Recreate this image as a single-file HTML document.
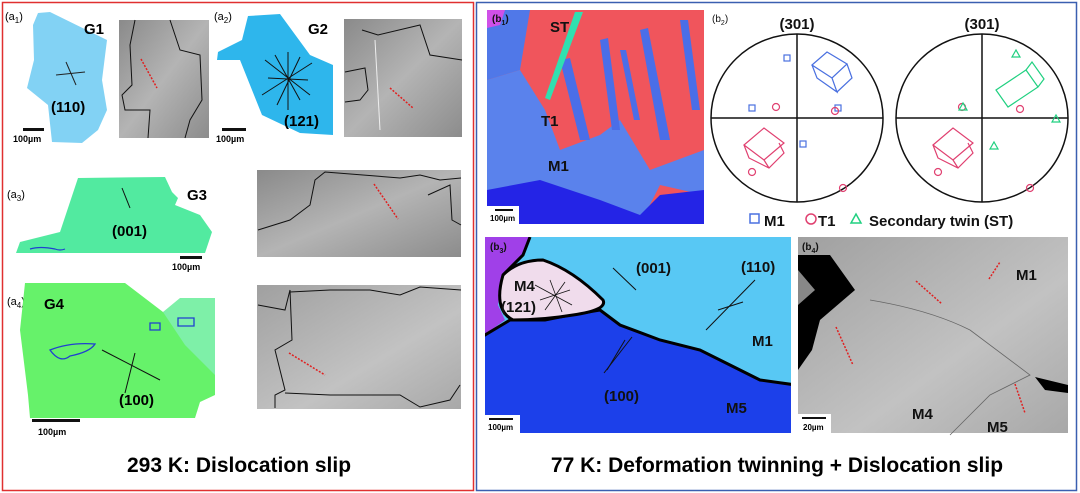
<!DOCTYPE html>
<html><head><meta charset="utf-8"><style>
html,body{margin:0;padding:0;background:#fff}
svg{display:block;font-family:"Liberation Sans",Arial,sans-serif}
.b{font-weight:bold}
</style></head><body>
<svg width="1080" height="493" viewBox="0 0 1080 493">
<defs>
<linearGradient id="sem" x1="0" y1="0" x2="1" y2="1"><stop offset="0" stop-color="#8a8a8a"/><stop offset="0.5" stop-color="#b4b4b4"/><stop offset="1" stop-color="#8c8c8c"/></linearGradient>
<linearGradient id="sem2" x1="0" y1="0" x2="1" y2="1"><stop offset="0" stop-color="#a0a0a0"/><stop offset="0.6" stop-color="#c2c2c2"/><stop offset="1" stop-color="#a8a8a8"/></linearGradient>
<clipPath id="b3clip"><rect x="485" y="237" width="306" height="196"/></clipPath>
</defs>
<!-- Left panel -->
<rect x="2.5" y="2.5" width="471" height="488" fill="none" stroke="#e03030" stroke-width="1.5"/>
<g>
<text x="5" y="20" font-size="11">(a<tspan font-size="8" dy="3">1</tspan><tspan dy="-3">)</tspan></text>
<polygon points="38,13 50,12 107,40 102,80 107,110 98,130 82,143 52,142 48,105 27,88 34,60 33,25" fill="#82d2f4"/>
<line x1="56" y1="75" x2="85" y2="72" stroke="#222" stroke-width="1"/><line x1="66" y1="62" x2="76" y2="85" stroke="#222" stroke-width="1"/>
<text x="84" y="34" font-size="15" class="b">G1</text>
<text x="51" y="112" font-size="15" class="b">(110)</text>
<rect x="23" y="128" width="21" height="3" fill="#111"/><text x="13" y="142" font-size="9" class="b">100µm</text>
<rect x="119" y="20" width="90" height="118" fill="url(#sem)"/>
<polyline points="135,20 130,45 132,85 122,95 125,110 150,110 148,138" fill="none" stroke="#111" stroke-width="1"/>
<polyline points="170,20 180,50 200,55 202,100 190,120 185,138" fill="none" stroke="#111" stroke-width="1"/>
<line x1="141" y1="59" x2="157" y2="88" stroke="#e02020" stroke-width="1.5" stroke-dasharray="2,1.5"/>
</g>
<g>
<text x="214" y="20" font-size="11">(a<tspan font-size="8" dy="3">2</tspan><tspan dy="-3">)</tspan></text>
<polygon points="248,16 280,14 310,55 333,65 333,135 300,133 262,115 240,60 217,60 218,52 242,40" fill="#2eb6ec"/>
<g stroke="#111" stroke-width="1"><line x1="265" y1="60" x2="310" y2="95"/><line x1="262" y1="95" x2="312" y2="63"/><line x1="288" y1="52" x2="288" y2="110"/><line x1="275" y1="55" x2="300" y2="100"/><line x1="300" y1="57" x2="277" y2="105"/><line x1="268" y1="78" x2="308" y2="80"/></g>
<text x="308" y="34" font-size="15" class="b">G2</text>
<text x="284" y="126" font-size="15" class="b">(121)</text>
<rect x="222" y="128" width="24" height="3" fill="#111"/><text x="216" y="142" font-size="9" class="b">100µm</text>
<rect x="344" y="19" width="118" height="118" fill="url(#sem)"/>
<polyline points="345,72 365,68 368,90 360,100 345,102" fill="none" stroke="#111" stroke-width="1"/>
<polyline points="362,30 378,35 420,25 430,55 462,60" fill="none" stroke="#111" stroke-width="1"/>
<polyline points="375,40 380,130" fill="none" stroke="#eee" stroke-width="1"/>
<line x1="390" y1="88" x2="413" y2="108" stroke="#e02020" stroke-width="1.5" stroke-dasharray="2,1.5"/>
</g>
<g>
<text x="7" y="198" font-size="11">(a<tspan font-size="8" dy="3">3</tspan><tspan dy="-3">)</tspan></text>
<polygon points="78,178 165,177 172,192 178,198 175,205 200,215 212,232 205,253 16,253 20,242 60,232" fill="#52eaa0"/>
<path d="M30,249 q10,-3 25,0 q5,2 10,0" fill="none" stroke="#2040d0" stroke-width="1.2"/>
<line x1="122" y1="188" x2="130" y2="208" stroke="#111"/>
<text x="187" y="200" font-size="15" class="b">G3</text>
<text x="112" y="236" font-size="15" class="b">(001)</text>
<rect x="180" y="256" width="22" height="3" fill="#111"/><text x="172" y="270" font-size="9" class="b">100µm</text>
<rect x="257" y="170" width="204" height="87" fill="url(#sem)"/>
<polyline points="258,230 290,220 310,205 315,180 325,172 400,178 420,175 440,180 461,178" fill="none" stroke="#111" stroke-width="1"/>
<polyline points="428,195 450,185 452,220 461,225" fill="none" stroke="#111" stroke-width="1"/>
<line x1="374" y1="184" x2="398" y2="219" stroke="#e02020" stroke-width="1.5" stroke-dasharray="2,1.5"/>
</g>
<g>
<text x="7" y="305" font-size="11">(a<tspan font-size="8" dy="3">4</tspan><tspan dy="-3">)</tspan></text>
<polygon points="25,283 125,283 163,312 215,300 215,395 200,402 195,418 30,418 28,395 20,330" fill="#66f26a"/>
<polygon points="163,312 180,298 215,298 215,375 185,345" fill="#7ef0a8"/>
<path d="M50,350 q20,-8 45,-6 q-5,8 -25,12 q-10,8 -20,-6z" fill="none" stroke="#2040d0" stroke-width="1.3"/>
<path d="M150,323 h10 v7 h-10z M178,318 h16 v8 h-16z" fill="none" stroke="#2040d0" stroke-width="1.3"/>
<line x1="102" y1="350" x2="160" y2="380" stroke="#111"/><line x1="135" y1="353" x2="125" y2="393" stroke="#111"/>
<text x="44" y="309" font-size="15" class="b">G4</text>
<text x="119" y="405" font-size="15" class="b">(100)</text>
<rect x="32" y="419" width="48" height="3" fill="#111"/><text x="38" y="435" font-size="9" class="b">100µm</text>
<rect x="257" y="285" width="204" height="124" fill="url(#sem2)"/>
<polyline points="258,305 285,310 290,290 292,340 275,350 285,390 275,395 275,408" fill="none" stroke="#111" stroke-width="1"/>
<polyline points="290,292 330,290 370,290 400,295 420,287 461,290" fill="none" stroke="#111" stroke-width="1"/>
<polyline points="285,393 330,395 400,395 420,407 450,400 460,385" fill="none" stroke="#111" stroke-width="1"/>
<line x1="289" y1="353" x2="325" y2="375" stroke="#e02020" stroke-width="1.5" stroke-dasharray="2,1.5"/>
</g>
<text x="239" y="472" font-size="21" class="b" text-anchor="middle">293 K: Dislocation slip</text>

<!-- Right panel -->
<rect x="476.5" y="2.5" width="600" height="488" fill="none" stroke="#3a5fb0" stroke-width="1.5"/>
<g>
<rect x="487" y="10" width="217" height="214" fill="#f0555c"/>
<polygon points="487,10 530,10 520,70 487,80" fill="#5078e8"/>
<polygon points="487,80 520,70 545,110 560,150 600,135 620,120 650,170 704,150 704,195 660,185 640,224 487,224" fill="#5a82ec"/>
<g fill="#4a6ee8"><polygon points="560,60 570,58 590,140 580,140"/><polygon points="600,40 608,38 620,130 612,130"/><polygon points="640,30 648,28 670,140 660,140"/><polygon points="680,20 688,20 700,110 692,110"/><polygon points="620,50 626,50 640,120 634,120"/></g>
<polygon points="575,12 583,12 550,100 545,98" fill="#30e0b0"/>
<polygon points="487,190 540,180 600,200 640,215 660,195 704,190 704,224 487,224" fill="#2424e6"/>
<polygon points="487,10 505,10 500,25 487,28" fill="#d050e8"/>
<text x="492" y="22" font-size="10" class="b" fill="#111">(b<tspan font-size="7" dy="3">1</tspan><tspan dy="-3">)</tspan></text>
<text x="550" y="32" font-size="15" class="b" fill="#111">ST</text>
<text x="541" y="126" font-size="15" class="b" fill="#111">T1</text>
<text x="548" y="171" font-size="15" class="b" fill="#111">M1</text>
<rect x="487" y="206" width="32" height="18" fill="#fff"/><rect x="495" y="209" width="18" height="2" fill="#111"/><text x="490" y="221" font-size="8" class="b">100µm</text>
</g>
<g fill="none" stroke-width="1.2">
<text x="712" y="22" font-size="10" stroke="none" fill="#111">(b<tspan font-size="7" dy="3">2</tspan><tspan dy="-3">)</tspan></text>
<text x="797" y="29" font-size="15" class="b" fill="#111" stroke="none" text-anchor="middle">(301)</text>
<text x="982" y="29" font-size="15" class="b" fill="#111" stroke="none" text-anchor="middle">(301)</text>
<ellipse cx="797" cy="118" rx="86" ry="84" stroke="#111" stroke-width="1.5"/>
<line x1="711" y1="118" x2="883" y2="118" stroke="#111" stroke-width="1.5"/><line x1="797" y1="34" x2="797" y2="202" stroke="#111" stroke-width="1.5"/>
<ellipse cx="982" cy="118" rx="86" ry="84" stroke="#111" stroke-width="1.5"/>
<line x1="896" y1="118" x2="1068" y2="118" stroke="#111" stroke-width="1.5"/><line x1="982" y1="34" x2="982" y2="202" stroke="#111" stroke-width="1.5"/>
<g stroke="#4a70e0"><rect x="784" y="55" width="6" height="6"/><rect x="749" y="105" width="6" height="6"/><rect x="835" y="105" width="6" height="6"/><rect x="800" y="141" width="6" height="6"/>
<path d="M812,65 l15,-13 l20,12 l-15,14z M812,65 l5,13 l20,14 l-5,-14 M847,64 l5,14 l-15,14"/></g>
<g stroke="#e04070"><circle cx="776" cy="107" r="3.5"/><circle cx="835" cy="111" r="3.5"/><circle cx="752" cy="172" r="3.5"/><circle cx="843" cy="188" r="3.5"/><circle cx="962" cy="107" r="3.5"/><circle cx="1020" cy="109" r="3.5"/><circle cx="938" cy="172" r="3.5"/><circle cx="1030" cy="188" r="3.5"/>
<path d="M744,145 l20,-17 l20,15 l-20,17z M744,145 l5,13 l20,10 l15,-15 l-5,-10 M764,160 l5,8"/>
<path d="M933,145 l20,-17 l20,15 l-20,17z M933,145 l5,13 l20,10 l15,-15 l-5,-10 M953,160 l5,8"/>
</g>
<g stroke="#20d080"><path d="M1012,57 l4,-7 l4,7z M1052,122 l4,-7 l4,7z M990,149 l4,-7 l4,7z M959,110 l4,-7 l4,7z"/>
<path d="M996,90 l30,-20 l12,17 l-30,20z M1026,70 l6,-8 l12,17 l-6,8"/></g>
<g>
<rect x="750" y="214" width="9" height="9" stroke="#4a70e0" stroke-width="1.5"/>
<text x="764" y="226" font-size="15" class="b" fill="#111" stroke="none">M1</text>
<circle cx="811" cy="219" r="5" stroke="#e04070" stroke-width="1.5"/>
<text x="818" y="226" font-size="15" class="b" fill="#111" stroke="none">T1</text>
<path d="M851,223 l5,-9 l5,9z" stroke="#20d080" stroke-width="1.5"/>
<text x="869" y="226" font-size="15" class="b" fill="#111" stroke="none">Secondary twin (ST)</text>
</g>
</g>
<g clip-path="url(#b3clip)">
<rect x="485" y="237" width="306" height="196" fill="#58c8f4"/>
<polygon points="480,237 530,237 523,255 503,275 498,305 505,320 480,338" fill="#a040e8"/>
<polygon points="480,338 510,320 545,320 570,315 600,310 620,325 660,340 700,350 730,365 760,380 796,385 796,440 480,440" fill="#1c40ea" stroke="#000" stroke-width="3"/>
<path d="M503,275 q15,-15 40,-15 q30,10 60,40 q5,10 -30,15 q-30,5 -60,5 q-20,-10 -10,-45z" fill="#f0dcec" stroke="#000" stroke-width="3"/>
<path d="M530,237 l-7,18 l-20,20" fill="none" stroke="#000" stroke-width="3"/>
<g stroke="#111" stroke-width="0.8"><line x1="535" y1="285" x2="572" y2="305"/><line x1="540" y1="300" x2="570" y2="290"/><line x1="550" y1="280" x2="562" y2="312"/><line x1="545" y1="310" x2="565" y2="282"/></g>
<line x1="613" y1="268" x2="636" y2="290" stroke="#111"/><line x1="706" y1="330" x2="755" y2="280" stroke="#111"/><line x1="718" y1="310" x2="743" y2="302" stroke="#111"/>
<line x1="604" y1="373" x2="632" y2="337" stroke="#111"/><line x1="607" y1="370" x2="625" y2="340" stroke="#111"/>
<text x="490" y="250" font-size="10" class="b" fill="#111">(b<tspan font-size="7" dy="3">3</tspan><tspan dy="-3">)</tspan></text>
<text x="514" y="291" font-size="15" class="b" fill="#111">M4</text>
<text x="501" y="312" font-size="15" class="b" fill="#111">(121)</text>
<text x="636" y="273" font-size="15" class="b" fill="#111">(001)</text>
<text x="741" y="272" font-size="15" class="b" fill="#111">(110)</text>
<text x="752" y="346" font-size="15" class="b" fill="#111">M1</text>
<text x="604" y="401" font-size="15" class="b" fill="#111">(100)</text>
<text x="726" y="413" font-size="15" class="b" fill="#111">M5</text>
<rect x="485" y="415" width="35" height="18" fill="#fff"/><rect x="489" y="418" width="24" height="2" fill="#111"/><text x="488" y="430" font-size="8" class="b">100µm</text>
</g>
<g>
<rect x="798" y="237" width="270" height="196" fill="url(#sem2)"/>
<polygon points="798,255 830,255 855,290 820,320 812,350 798,370" fill="#000"/>
<polygon points="798,270 815,290 798,305" fill="#888"/>
<polygon points="1035,377 1068,385 1068,393 1045,390" fill="#000"/>
<path d="M870,300 q60,10 100,30 q40,30 60,45 q-20,10 -40,20 q-20,20 -40,40" fill="none" stroke="#666" stroke-width="0.8"/>
<g stroke="#e02020" stroke-width="1.5" stroke-dasharray="2,1.5"><line x1="916" y1="281" x2="942" y2="304"/><line x1="989" y1="279" x2="1000" y2="262"/><line x1="836" y1="327" x2="853" y2="365"/><line x1="1015" y1="384" x2="1025" y2="413"/></g>
<text x="1016" y="280" font-size="15" class="b" fill="#111">M1</text>
<text x="912" y="419" font-size="15" class="b" fill="#111">M4</text>
<text x="987" y="432" font-size="15" class="b" fill="#111">M5</text>
<text x="802" y="250" font-size="10" class="b" fill="#111">(b<tspan font-size="7" dy="3">4</tspan><tspan dy="-3">)</tspan></text>
<rect x="798" y="414" width="33" height="19" fill="#fff"/><rect x="802" y="417" width="24" height="2" fill="#111"/><text x="803" y="430" font-size="8" class="b">20µm</text>
</g>
<text x="777" y="472" font-size="21" class="b" text-anchor="middle">77 K: Deformation twinning + Dislocation slip</text>
</svg>
</body></html>
